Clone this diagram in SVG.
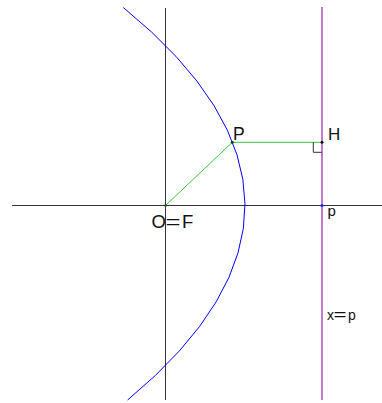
<svg xmlns="http://www.w3.org/2000/svg" width="382" height="403" viewBox="0 0 382 403">
<style>
.axis{stroke:#333;stroke-width:1;fill:none}
.dir{stroke:#c07ccc;stroke-width:2;fill:none}
.curve{stroke:#0000ff;stroke-width:1;fill:none}
.seg{stroke:#33cc33;stroke-width:1;fill:none}
.mark{stroke:#333;stroke-width:1;fill:none}
text{font-family:"Liberation Sans",Arial,sans-serif;fill:#111}
</style>
<rect width="382" height="403" fill="#fff"/>
<g id="axes">
<line class="axis" x1="12" y1="205.5" x2="382" y2="205.5"/>
<line class="axis" x1="165.5" y1="8" x2="165.5" y2="400"/>
</g>
<g id="directrix">
<line class="dir" x1="322" y1="7" x2="322" y2="400"/>
<text x="327" y="319.5" font-size="14"><tspan>x</tspan><tspan x="333.5" textLength="13" lengthAdjust="spacingAndGlyphs">=</tspan><tspan x="348">p</tspan></text>
</g>
<g id="parabola">
<path class="curve" d="M123.3,7.5 Q364.5,203.75 127.6,400"/>
</g>
<g id="connectors">
<line class="seg" x1="165.5" y1="205.5" x2="232.3" y2="142.3"/>
<line class="seg" x1="232.3" y1="142.3" x2="322" y2="142.3"/>
<polyline class="mark" points="313.3,142.3 313.3,152.3 322,152.3"/>
</g>
<g id="node-O">
<circle cx="165.5" cy="205.5" r="1.3" fill="#1a5a1a"/>
<text x="151.5" y="227.5" font-size="18.5"><tspan>O</tspan><tspan x="165.5" textLength="15" lengthAdjust="spacingAndGlyphs">=</tspan><tspan x="182">F</tspan></text>
</g>
<g id="node-P">
<circle cx="232.3" cy="142.3" r="1.5" fill="#114411"/>
<text x="233" y="140" font-size="17.5">P</text>
</g>
<g id="node-H">
<circle cx="322" cy="142.3" r="1.5" fill="#111"/>
<text x="328" y="139.5" font-size="17">H</text>
</g>
<g id="node-p">
<circle cx="322" cy="205.5" r="1.6" fill="#2222ff"/>
<text x="327.5" y="216" font-size="15">p</text>
</g>
</svg>
